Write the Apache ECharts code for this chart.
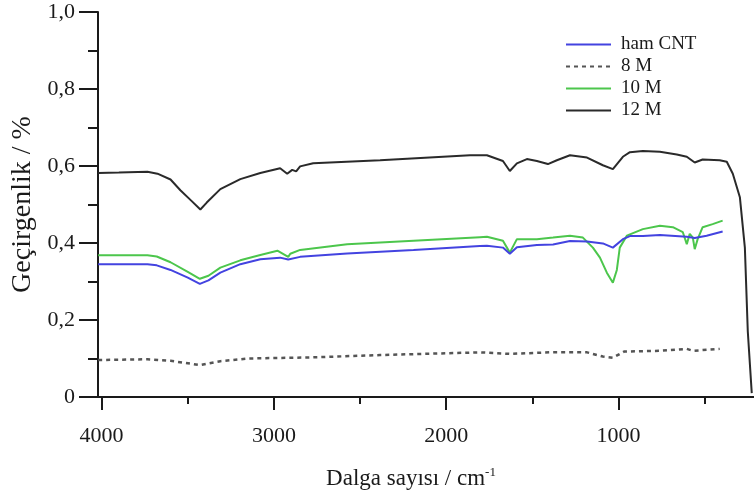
<!DOCTYPE html>
<html>
<head>
<meta charset="utf-8">
<script src="https://cdn.jsdelivr.net/npm/echarts@6/dist/echarts.min.js"></script>
<style>
  html, body { margin: 0; padding: 0; background: #fff; }
  #main { width: 754px; height: 502px; }
</style>
</head>
<body>
<div id="main"></div>
<script>
// FTIR spectra, x = wavenumber (cm-1), y = transmittance
var seriesNames = ['ham CNT', '8 M', '10 M', '12 M'];

var hamWn  = [4020, 3734, 3680, 3600, 3500, 3430, 3380, 3311, 3195, 3079, 2964, 2917, 2848, 2575, 2190, 1805, 1764, 1671, 1631, 1590, 1474, 1380, 1282, 1183, 1091, 1033, 975, 934, 859, 760, 604, 558, 489, 396];
var hamVal = [0.345, 0.345, 0.342, 0.330, 0.310, 0.294, 0.303, 0.323, 0.345, 0.358, 0.362, 0.357, 0.364, 0.373, 0.382, 0.392, 0.393, 0.388, 0.372, 0.389, 0.395, 0.396, 0.405, 0.404, 0.399, 0.388, 0.410, 0.418, 0.418, 0.421, 0.416, 0.413, 0.419, 0.430];

var m8Wn  = [4020, 3734, 3600, 3430, 3311, 3150, 2772, 2384, 1805, 1631, 1400, 1183, 1091, 1033, 968, 760, 604, 569, 413];
var m8Val = [0.096, 0.098, 0.094, 0.083, 0.093, 0.100, 0.103, 0.109, 0.116, 0.112, 0.116, 0.116, 0.105, 0.102, 0.118, 0.120, 0.125, 0.120, 0.125];

var m10Wn  = [4020, 3734, 3680, 3600, 3500, 3430, 3380, 3311, 3195, 3079, 2980, 2917, 2905, 2848, 2575, 2190, 1805, 1764, 1671, 1631, 1590, 1474, 1380, 1282, 1207, 1149, 1108, 1068, 1033, 1010, 993, 952, 859, 760, 685, 627, 604, 587, 569, 558, 541, 512, 454, 396];
var m10Val = [0.368, 0.368, 0.365, 0.350, 0.325, 0.307, 0.315, 0.336, 0.355, 0.369, 0.380, 0.364, 0.372, 0.382, 0.397, 0.406, 0.415, 0.416, 0.406, 0.375, 0.410, 0.410, 0.414, 0.419, 0.414, 0.388, 0.362, 0.323, 0.297, 0.330, 0.388, 0.419, 0.436, 0.445, 0.441, 0.428, 0.397, 0.424, 0.414, 0.384, 0.410, 0.441, 0.449, 0.458];

var m12Wn  = [4020, 3900, 3734, 3676, 3600, 3543, 3480, 3427, 3390, 3311, 3195, 3079, 2964, 2923, 2894, 2871, 2848, 2772, 2384, 1862, 1764, 1671, 1631, 1590, 1532, 1474, 1410, 1358, 1282, 1183, 1091, 1033, 975, 934, 859, 760, 662, 604, 558, 512, 413, 372, 337, 296, 267, 250, 227];
var m12Val = [0.582, 0.583, 0.585, 0.580, 0.565, 0.537, 0.510, 0.487, 0.505, 0.540, 0.566, 0.582, 0.594, 0.580, 0.590, 0.586, 0.599, 0.607, 0.615, 0.628, 0.628, 0.613, 0.587, 0.607, 0.618, 0.613, 0.605, 0.615, 0.628, 0.622, 0.602, 0.592, 0.624, 0.636, 0.639, 0.637, 0.630, 0.624, 0.609, 0.617, 0.615, 0.611, 0.580, 0.519, 0.388, 0.170, 0.010];

var xMajor = [1000, 2000, 3000, 4000];
var xMinor = [500, 1500, 2500, 3500];

function pairs(wn, val) {
  return wn.map(function (w, i) { return [w, val[i]]; });
}

var serif = 'Liberation Serif';
var ink = '#1a1a1a';

var chart = echarts.init(document.getElementById('main'));
var option = {
  backgroundColor: '#fff',
  animation: false,
  textStyle: { fontFamily: serif, color: ink },
  grid: {
    left: 98, right: 0, top: 12, bottom: 105,
    outerBoundsMode: 'none'
  },
  legend: {
    orient: 'vertical',
    left: 560, top: 30,
    itemWidth: 45, itemHeight: 14, itemGap: 3,
    itemStyle: { opacity: 0 },
    textStyle: { fontFamily: serif, fontSize: 19, color: ink, padding: [0, 0, 0, 5] },
    data: seriesNames
  },
  xAxis: [
    {
      type: 'value', inverse: true, min: 214, max: 4021,
      name: '{a|Dalga sayısı / cm}{b|-1}',
      nameLocation: 'middle', nameGap: 69,
      nameTextStyle: {
        padding: [0, 30, 0, 0],
        rich: {
          a: { fontFamily: serif, fontSize: 23, color: ink },
          b: { fontFamily: serif, fontSize: 13, color: ink, padding: [0, 0, 12, 0] }
        }
      },
      axisLine: { lineStyle: { color: ink, width: 2 } },
      axisTick: { customValues: xMajor, length: 13, lineStyle: { color: ink, width: 2 } },
      axisLabel: {
        customValues: xMajor, margin: 28, fontFamily: serif, fontSize: 22, color: ink,
        formatter: function (v) { return String(v); }
      },
      splitLine: { show: false }
    },
    {
      type: 'value', inverse: true, min: 214, max: 4021, position: 'bottom',
      axisLine: { show: false },
      axisTick: { customValues: xMinor, length: 7, lineStyle: { color: ink, width: 2 } },
      axisLabel: { show: false },
      splitLine: { show: false }
    }
  ],
  yAxis: {
    type: 'value', min: 0, max: 1, interval: 0.2,
    name: 'Geçirgenlik / %',
    nameLocation: 'middle', nameGap: 60,
    nameTextStyle: { fontFamily: serif, fontSize: 28, color: ink },
    axisLine: { show: true, lineStyle: { color: ink, width: 2 } },
    axisTick: { length: 19, lineStyle: { color: ink, width: 2 } },
    minorTick: { show: true, splitNumber: 2, length: 10, lineStyle: { color: ink, width: 2 } },
    axisLabel: {
      margin: 23, fontFamily: serif, fontSize: 22, color: ink,
      formatter: function (v) { return v === 0 ? '0' : v.toFixed(1).replace('.', ','); }
    },
    splitLine: { show: false }
  },
  series: [
    { name: seriesNames[0], type: 'line', showSymbol: false, symbol: 'none', z: 3,
      lineStyle: { color: '#4343e0', width: 2 }, itemStyle: { color: '#4343e0' },
      data: pairs(hamWn, hamVal) },
    { name: seriesNames[1], type: 'line', showSymbol: false, symbol: 'none',
      lineStyle: { color: '#555', width: 2.5, type: [4, 4] }, itemStyle: { color: '#555' },
      data: pairs(m8Wn, m8Val) },
    { name: seriesNames[2], type: 'line', showSymbol: false, symbol: 'none', z: 2,
      lineStyle: { color: '#4cc64c', width: 2 }, itemStyle: { color: '#4cc64c' },
      data: pairs(m10Wn, m10Val) },
    { name: seriesNames[3], type: 'line', showSymbol: false, symbol: 'none',
      lineStyle: { color: '#2a2a2a', width: 2 }, itemStyle: { color: '#2a2a2a' },
      data: pairs(m12Wn, m12Val) }
  ]
};
chart.setOption(option);
</script>
</body>
</html>
